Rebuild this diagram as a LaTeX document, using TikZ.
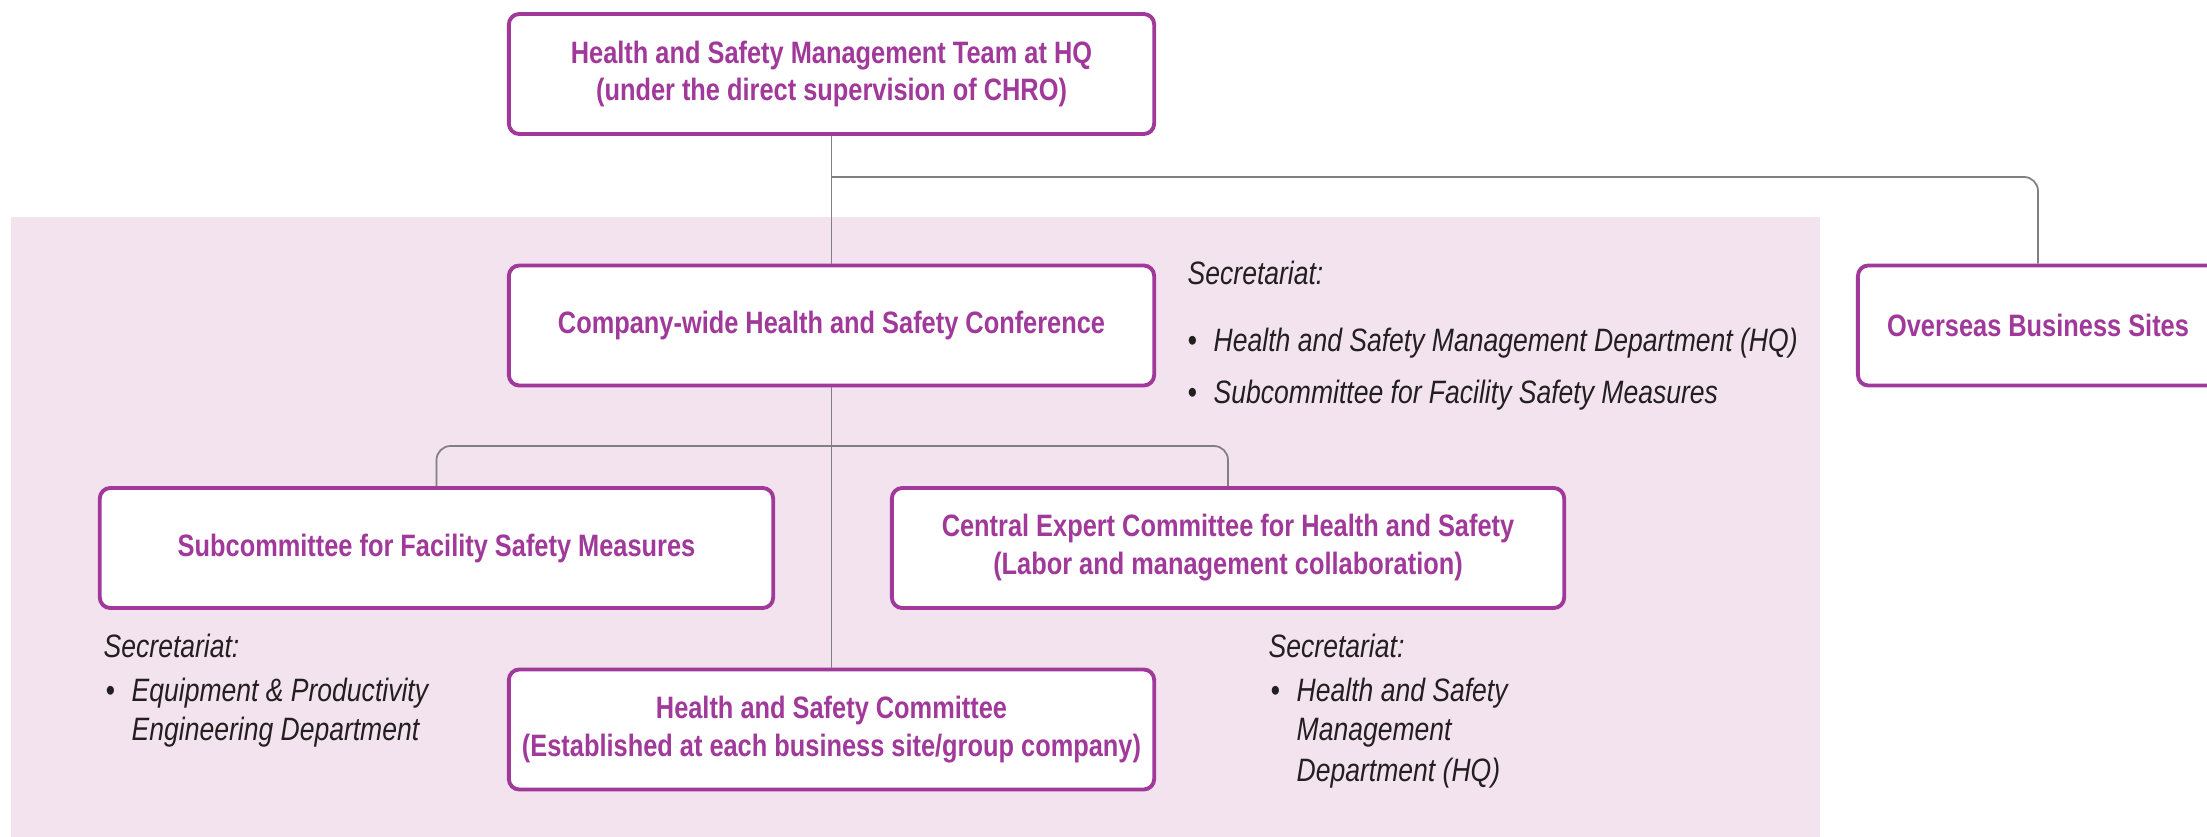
\documentclass[tikz,border=0pt]{standalone}
\usepackage{fontspec}
\setmainfont[FakeStretch=0.82]{Liberation Sans}
\usetikzlibrary{positioning}
\definecolor{hspurple}{HTML}{A0399A}
\definecolor{hspink}{HTML}{F2E3EE}
\definecolor{hsgray}{HTML}{808080}
\definecolor{hstext}{HTML}{231F20}
\newcommand{\secbul}{\makebox[0.26cm][l]{\textbullet}}

\begin{document}
\begin{tikzpicture}[x=0.01cm,y=0.01cm,
  unit/.style={draw=hspurple,line width=1.1pt,rounded corners=3pt,fill=white,text=hspurple,align=center,
    font=\fontsize{8.8}{10.8}\selectfont\bfseries,minimum width=6.45cm,minimum height=1.2cm},
  sec/.style={anchor=west,inner sep=0pt,text=hstext,text height=7.5pt,text depth=1.3pt,font=\fontsize{9.2}{11}\selectfont\itshape},
  conn/.style={draw=hsgray,line width=.5pt,rounded corners=4pt}]
\path[use as bounding box,clip] (0,0) rectangle (2207,-837);
\fill[hspink] (11,-217) rectangle (1820,-837);
\node[unit](team) at (831.5,-74){Health and Safety Management Team at HQ\\(under the direct supervision of CHRO)};
\node[unit](conf) at (831.5,-325.5){Company-wide Health and Safety Conference};
\node[unit,minimum width=3.6cm](overseas) at (2038,-325.5){Overseas Business Sites};
\node[unit,minimum width=6.73cm](facility) at (436.5,-548){Subcommittee for Facility Safety Measures};
\node[unit,minimum width=6.72cm](expert) at (1228,-548){Central Expert Committee for Health and Safety\\(Labor and management collaboration)};
\node[unit](site) at (831.5,-729.5){Health and Safety Committee\\(Established at each business site/group company)};
\coordinate(split) at (831.5,-177);\coordinate(fork) at (831.5,-446);
\draw[conn](team)--(conf);\draw[conn](split)-|(overseas);
\draw[conn](conf)--(site);\draw[conn](facility.north)|-(fork)-|(expert.north);
\node[sec](confsec) at (1187,-274){Secretariat:};
\node[sec](confsec1) at (1187,-341){\secbul Health and Safety Management Department (HQ)};
\node[sec](confsec2) at (1187,-393){\secbul Subcommittee for Facility Safety Measures};
\node[sec](facsec) at (103,-647){Secretariat:};
\node[sec](facsec1) at (105,-691){\secbul Equipment \& Productivity};
\node[sec](facsec1b) at (131,-730){Engineering Department};
\node[sec](expsec) at (1268,-647){Secretariat:};
\node[sec](expsec1) at (1270,-691){\secbul Health and Safety};
\node[sec](expsec1b) at (1296,-730){Management};
\node[sec](expsec1c) at (1296,-771){Department (HQ)};
\end{tikzpicture}
\end{document}
